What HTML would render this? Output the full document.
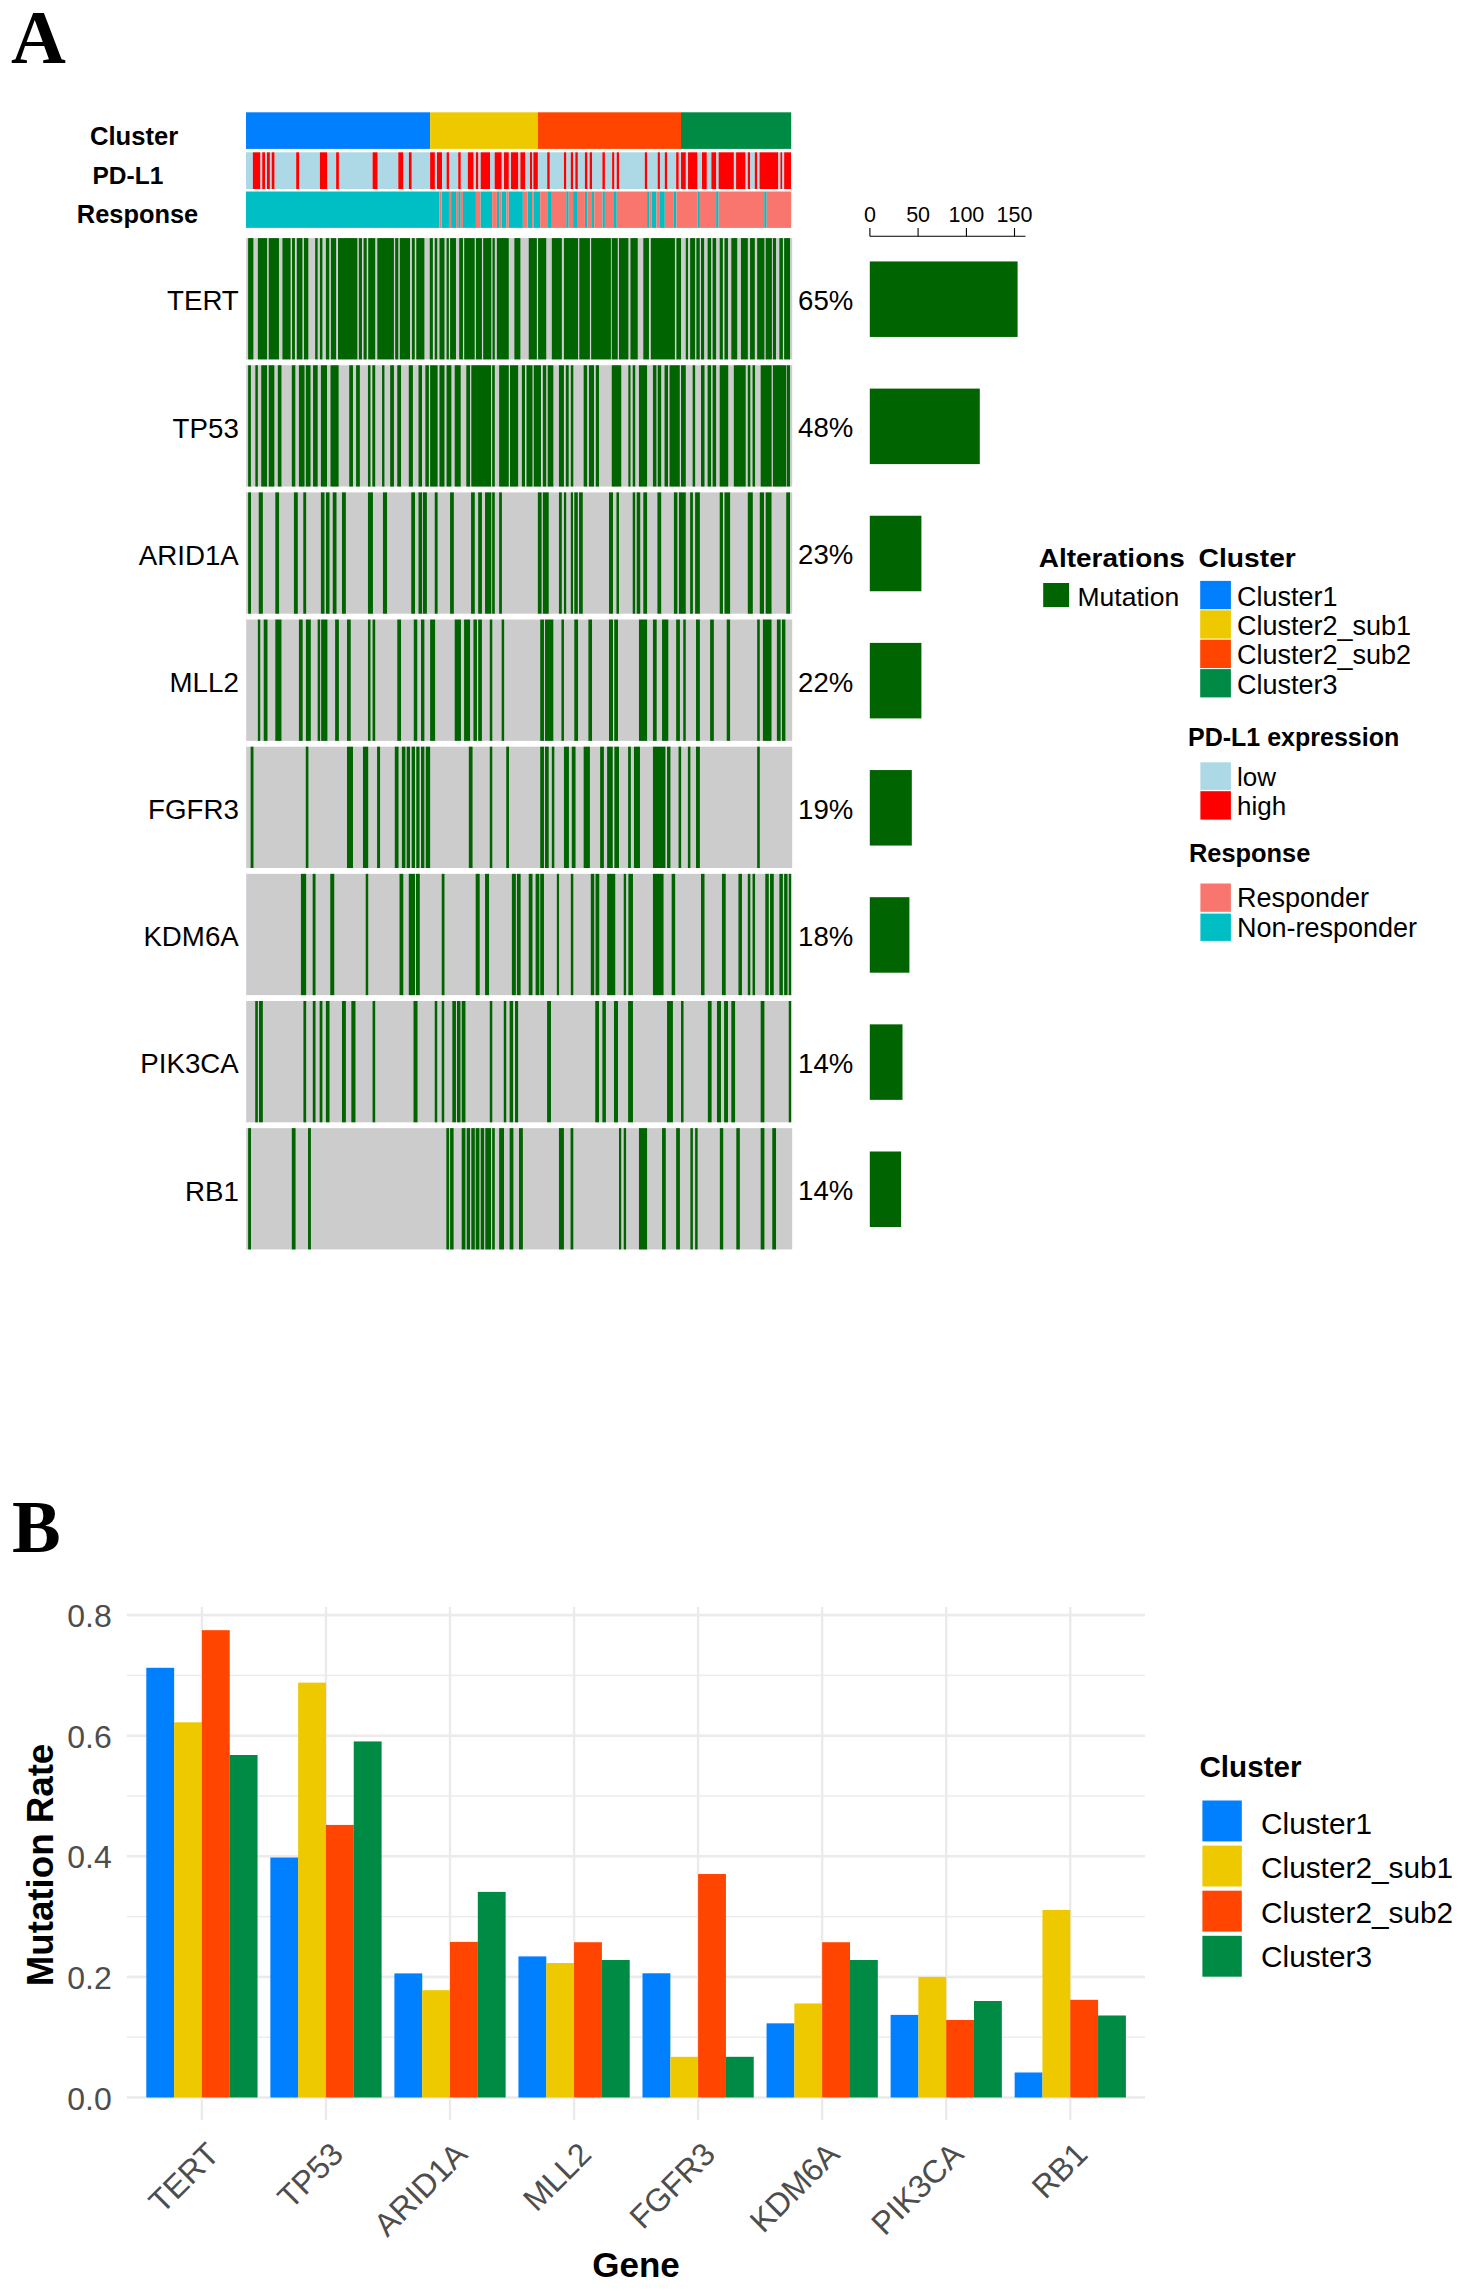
<!DOCTYPE html>
<html><head><meta charset="utf-8"><title>Figure</title>
<style>
html,body{margin:0;padding:0;background:#fff;}
body{width:1466px;height:2291px;overflow:hidden;}
svg{display:block;font-family:"Liberation Sans",sans-serif;}
</style></head>
<body>
<svg width="1466" height="2291" viewBox="0 0 1466 2291" shape-rendering="auto">
<rect x="0" y="0" width="1466" height="2291" fill="#fff"/>
<text x="11" y="63" font-family="Liberation Serif" font-weight="bold" font-size="76">A</text>
<text x="90" y="144.7" font-weight="bold" font-size="25.6">Cluster</text>
<clipPath id="pdclip"><rect x="0" y="150" width="240" height="35.3"/></clipPath>
<text x="92.5" y="184.3" font-weight="bold" font-size="24.5" clip-path="url(#pdclip)">PD-L1</text>
<text x="76.8" y="222.8" font-weight="bold" font-size="25.4">Response</text>
<rect x="246.0" y="112.3" width="184.10" height="36.6" fill="#007FFF"/>
<rect x="430.1" y="112.3" width="107.70" height="36.6" fill="#EEC900"/>
<rect x="537.8" y="112.3" width="143.20" height="36.6" fill="#FF4500"/>
<rect x="681.0" y="112.3" width="110.20" height="36.6" fill="#008B45"/>
<rect x="246.00" y="152.30" width="6.86" height="36.70" fill="#ADD8E6"/>
<rect x="260.23" y="152.30" width="2.00" height="36.70" fill="#ADD8E6"/>
<rect x="264.97" y="152.30" width="2.00" height="36.70" fill="#ADD8E6"/>
<rect x="269.84" y="152.30" width="1.87" height="36.70" fill="#ADD8E6"/>
<rect x="274.46" y="152.30" width="21.72" height="36.70" fill="#ADD8E6"/>
<rect x="299.05" y="152.30" width="20.85" height="36.70" fill="#ADD8E6"/>
<rect x="327.14" y="152.30" width="8.99" height="36.70" fill="#ADD8E6"/>
<rect x="338.87" y="152.30" width="33.70" height="36.70" fill="#ADD8E6"/>
<rect x="377.57" y="152.30" width="20.72" height="36.70" fill="#ADD8E6"/>
<rect x="403.28" y="152.30" width="5.62" height="36.70" fill="#ADD8E6"/>
<rect x="411.65" y="152.30" width="18.47" height="36.70" fill="#ADD8E6"/>
<rect x="434.86" y="152.30" width="2.12" height="36.70" fill="#ADD8E6"/>
<rect x="441.98" y="152.30" width="4.62" height="36.70" fill="#ADD8E6"/>
<rect x="448.97" y="152.30" width="9.24" height="36.70" fill="#ADD8E6"/>
<rect x="460.70" y="152.30" width="7.12" height="36.70" fill="#ADD8E6"/>
<rect x="473.56" y="152.30" width="2.37" height="36.70" fill="#ADD8E6"/>
<rect x="478.18" y="152.30" width="2.50" height="36.70" fill="#ADD8E6"/>
<rect x="490.04" y="152.30" width="4.62" height="36.70" fill="#ADD8E6"/>
<rect x="501.65" y="152.30" width="2.37" height="36.70" fill="#ADD8E6"/>
<rect x="508.76" y="152.30" width="2.25" height="36.70" fill="#ADD8E6"/>
<rect x="518.13" y="152.30" width="2.25" height="36.70" fill="#ADD8E6"/>
<rect x="525.12" y="152.30" width="4.87" height="36.70" fill="#ADD8E6"/>
<rect x="532.11" y="152.30" width="1.25" height="36.70" fill="#ADD8E6"/>
<rect x="537.85" y="152.30" width="9.36" height="36.70" fill="#ADD8E6"/>
<rect x="549.71" y="152.30" width="14.23" height="36.70" fill="#ADD8E6"/>
<rect x="566.18" y="152.30" width="4.62" height="36.70" fill="#ADD8E6"/>
<rect x="573.05" y="152.30" width="2.25" height="36.70" fill="#ADD8E6"/>
<rect x="577.79" y="152.30" width="7.12" height="36.70" fill="#ADD8E6"/>
<rect x="587.41" y="152.30" width="2.25" height="36.70" fill="#ADD8E6"/>
<rect x="592.02" y="152.30" width="10.36" height="36.70" fill="#ADD8E6"/>
<rect x="604.88" y="152.30" width="7.24" height="36.70" fill="#ADD8E6"/>
<rect x="614.24" y="152.30" width="2.50" height="36.70" fill="#ADD8E6"/>
<rect x="618.99" y="152.30" width="25.84" height="36.70" fill="#ADD8E6"/>
<rect x="647.07" y="152.30" width="10.61" height="36.70" fill="#ADD8E6"/>
<rect x="659.93" y="152.30" width="4.87" height="36.70" fill="#ADD8E6"/>
<rect x="667.05" y="152.30" width="9.11" height="36.70" fill="#ADD8E6"/>
<rect x="678.65" y="152.30" width="2.37" height="36.70" fill="#ADD8E6"/>
<rect x="685.77" y="152.30" width="2.25" height="36.70" fill="#ADD8E6"/>
<rect x="697.38" y="152.30" width="4.62" height="36.70" fill="#ADD8E6"/>
<rect x="706.74" y="152.30" width="4.62" height="36.70" fill="#ADD8E6"/>
<rect x="716.10" y="152.30" width="2.50" height="36.70" fill="#ADD8E6"/>
<rect x="733.83" y="152.30" width="2.25" height="36.70" fill="#ADD8E6"/>
<rect x="745.44" y="152.30" width="2.37" height="36.70" fill="#ADD8E6"/>
<rect x="750.06" y="152.30" width="4.74" height="36.70" fill="#ADD8E6"/>
<rect x="757.17" y="152.30" width="2.37" height="36.70" fill="#ADD8E6"/>
<rect x="778.14" y="152.30" width="2.25" height="36.70" fill="#ADD8E6"/>
<rect x="782.14" y="152.30" width="2.00" height="36.70" fill="#ADD8E6"/>
<rect x="791.00" y="152.30" width="0.20" height="36.70" fill="#ADD8E6"/>
<rect x="252.86" y="152.30" width="7.36" height="36.70" fill="#FF0000"/>
<rect x="262.23" y="152.30" width="2.75" height="36.70" fill="#FF0000"/>
<rect x="266.97" y="152.30" width="2.87" height="36.70" fill="#FF0000"/>
<rect x="271.71" y="152.30" width="2.75" height="36.70" fill="#FF0000"/>
<rect x="296.18" y="152.30" width="2.87" height="36.70" fill="#FF0000"/>
<rect x="319.90" y="152.30" width="7.24" height="36.70" fill="#FF0000"/>
<rect x="336.13" y="152.30" width="2.75" height="36.70" fill="#FF0000"/>
<rect x="372.58" y="152.30" width="4.99" height="36.70" fill="#FF0000"/>
<rect x="398.29" y="152.30" width="4.99" height="36.70" fill="#FF0000"/>
<rect x="408.90" y="152.30" width="2.75" height="36.70" fill="#FF0000"/>
<rect x="430.12" y="152.30" width="4.74" height="36.70" fill="#FF0000"/>
<rect x="436.99" y="152.30" width="4.99" height="36.70" fill="#FF0000"/>
<rect x="446.60" y="152.30" width="2.37" height="36.70" fill="#FF0000"/>
<rect x="458.21" y="152.30" width="2.50" height="36.70" fill="#FF0000"/>
<rect x="467.82" y="152.30" width="5.74" height="36.70" fill="#FF0000"/>
<rect x="475.93" y="152.30" width="2.25" height="36.70" fill="#FF0000"/>
<rect x="480.68" y="152.30" width="9.36" height="36.70" fill="#FF0000"/>
<rect x="494.66" y="152.30" width="6.99" height="36.70" fill="#FF0000"/>
<rect x="504.02" y="152.30" width="4.74" height="36.70" fill="#FF0000"/>
<rect x="511.01" y="152.30" width="7.12" height="36.70" fill="#FF0000"/>
<rect x="520.37" y="152.30" width="4.74" height="36.70" fill="#FF0000"/>
<rect x="529.98" y="152.30" width="2.12" height="36.70" fill="#FF0000"/>
<rect x="533.35" y="152.30" width="4.49" height="36.70" fill="#FF0000"/>
<rect x="547.21" y="152.30" width="2.50" height="36.70" fill="#FF0000"/>
<rect x="563.94" y="152.30" width="2.25" height="36.70" fill="#FF0000"/>
<rect x="570.80" y="152.30" width="2.25" height="36.70" fill="#FF0000"/>
<rect x="575.30" y="152.30" width="2.50" height="36.70" fill="#FF0000"/>
<rect x="584.91" y="152.30" width="2.50" height="36.70" fill="#FF0000"/>
<rect x="589.65" y="152.30" width="2.37" height="36.70" fill="#FF0000"/>
<rect x="602.39" y="152.30" width="2.50" height="36.70" fill="#FF0000"/>
<rect x="612.12" y="152.30" width="2.12" height="36.70" fill="#FF0000"/>
<rect x="616.74" y="152.30" width="2.25" height="36.70" fill="#FF0000"/>
<rect x="644.83" y="152.30" width="2.25" height="36.70" fill="#FF0000"/>
<rect x="657.68" y="152.30" width="2.25" height="36.70" fill="#FF0000"/>
<rect x="664.80" y="152.30" width="2.25" height="36.70" fill="#FF0000"/>
<rect x="676.16" y="152.30" width="2.50" height="36.70" fill="#FF0000"/>
<rect x="681.03" y="152.30" width="4.74" height="36.70" fill="#FF0000"/>
<rect x="688.02" y="152.30" width="9.36" height="36.70" fill="#FF0000"/>
<rect x="702.00" y="152.30" width="4.74" height="36.70" fill="#FF0000"/>
<rect x="711.36" y="152.30" width="4.74" height="36.70" fill="#FF0000"/>
<rect x="718.60" y="152.30" width="15.23" height="36.70" fill="#FF0000"/>
<rect x="736.08" y="152.30" width="9.36" height="36.70" fill="#FF0000"/>
<rect x="747.81" y="152.30" width="2.25" height="36.70" fill="#FF0000"/>
<rect x="754.80" y="152.30" width="2.37" height="36.70" fill="#FF0000"/>
<rect x="759.54" y="152.30" width="18.60" height="36.70" fill="#FF0000"/>
<rect x="780.39" y="152.30" width="1.75" height="36.70" fill="#FF0000"/>
<rect x="784.14" y="152.30" width="6.87" height="36.70" fill="#FF0000"/>
<rect x="246.00" y="191.50" width="193.48" height="36.40" fill="#00BFC4"/>
<rect x="441.73" y="191.50" width="7.24" height="36.40" fill="#00BFC4"/>
<rect x="451.09" y="191.50" width="4.99" height="36.40" fill="#00BFC4"/>
<rect x="458.21" y="191.50" width="2.50" height="36.40" fill="#00BFC4"/>
<rect x="462.95" y="191.50" width="12.98" height="36.40" fill="#00BFC4"/>
<rect x="480.43" y="191.50" width="11.73" height="36.40" fill="#00BFC4"/>
<rect x="496.90" y="191.50" width="2.25" height="36.40" fill="#00BFC4"/>
<rect x="501.65" y="191.50" width="4.74" height="36.40" fill="#00BFC4"/>
<rect x="508.76" y="191.50" width="14.11" height="36.40" fill="#00BFC4"/>
<rect x="527.49" y="191.50" width="4.62" height="36.40" fill="#00BFC4"/>
<rect x="533.35" y="191.50" width="6.87" height="36.40" fill="#00BFC4"/>
<rect x="547.21" y="191.50" width="4.62" height="36.40" fill="#00BFC4"/>
<rect x="566.18" y="191.50" width="2.50" height="36.40" fill="#00BFC4"/>
<rect x="573.05" y="191.50" width="4.74" height="36.40" fill="#00BFC4"/>
<rect x="584.91" y="191.50" width="2.50" height="36.40" fill="#00BFC4"/>
<rect x="592.02" y="191.50" width="2.25" height="36.40" fill="#00BFC4"/>
<rect x="602.39" y="191.50" width="2.50" height="36.40" fill="#00BFC4"/>
<rect x="613.99" y="191.50" width="2.75" height="36.40" fill="#00BFC4"/>
<rect x="647.07" y="191.50" width="2.50" height="36.40" fill="#00BFC4"/>
<rect x="651.69" y="191.50" width="4.74" height="36.40" fill="#00BFC4"/>
<rect x="659.93" y="191.50" width="4.87" height="36.40" fill="#00BFC4"/>
<rect x="673.91" y="191.50" width="2.50" height="36.40" fill="#00BFC4"/>
<rect x="697.38" y="191.50" width="2.50" height="36.40" fill="#00BFC4"/>
<rect x="716.10" y="191.50" width="2.50" height="36.40" fill="#00BFC4"/>
<rect x="764.16" y="191.50" width="2.50" height="36.40" fill="#00BFC4"/>
<rect x="439.48" y="191.50" width="2.25" height="36.40" fill="#F8766D"/>
<rect x="448.97" y="191.50" width="2.12" height="36.40" fill="#F8766D"/>
<rect x="456.09" y="191.50" width="2.12" height="36.40" fill="#F8766D"/>
<rect x="460.70" y="191.50" width="2.25" height="36.40" fill="#F8766D"/>
<rect x="475.93" y="191.50" width="4.49" height="36.40" fill="#F8766D"/>
<rect x="492.16" y="191.50" width="4.74" height="36.40" fill="#F8766D"/>
<rect x="499.15" y="191.50" width="2.50" height="36.40" fill="#F8766D"/>
<rect x="506.39" y="191.50" width="2.37" height="36.40" fill="#F8766D"/>
<rect x="522.87" y="191.50" width="4.62" height="36.40" fill="#F8766D"/>
<rect x="532.11" y="191.50" width="1.25" height="36.40" fill="#F8766D"/>
<rect x="540.22" y="191.50" width="6.99" height="36.40" fill="#F8766D"/>
<rect x="551.83" y="191.50" width="14.36" height="36.40" fill="#F8766D"/>
<rect x="568.68" y="191.50" width="4.37" height="36.40" fill="#F8766D"/>
<rect x="577.79" y="191.50" width="7.12" height="36.40" fill="#F8766D"/>
<rect x="587.41" y="191.50" width="4.62" height="36.40" fill="#F8766D"/>
<rect x="594.27" y="191.50" width="8.11" height="36.40" fill="#F8766D"/>
<rect x="604.88" y="191.50" width="9.11" height="36.40" fill="#F8766D"/>
<rect x="616.74" y="191.50" width="30.33" height="36.40" fill="#F8766D"/>
<rect x="649.57" y="191.50" width="2.12" height="36.40" fill="#F8766D"/>
<rect x="656.44" y="191.50" width="3.50" height="36.40" fill="#F8766D"/>
<rect x="664.80" y="191.50" width="9.11" height="36.40" fill="#F8766D"/>
<rect x="676.41" y="191.50" width="20.97" height="36.40" fill="#F8766D"/>
<rect x="699.88" y="191.50" width="16.23" height="36.40" fill="#F8766D"/>
<rect x="718.60" y="191.50" width="45.56" height="36.40" fill="#F8766D"/>
<rect x="766.66" y="191.50" width="24.54" height="36.40" fill="#F8766D"/>
<rect x="246.0" y="238.10" width="546.20" height="121.3" fill="#CCCCCC"/>
<rect x="267.09" y="238.10" width="1.62" height="121.30" fill="#D8D0DA"/>
<rect x="290.56" y="238.10" width="1.50" height="121.30" fill="#D8D0DA"/>
<rect x="294.93" y="238.10" width="1.87" height="121.30" fill="#D8D0DA"/>
<rect x="302.42" y="238.10" width="1.50" height="121.30" fill="#D8D0DA"/>
<rect x="329.26" y="238.10" width="1.62" height="121.30" fill="#D8D0DA"/>
<rect x="336.13" y="238.10" width="1.87" height="121.30" fill="#D8D0DA"/>
<rect x="357.35" y="238.10" width="1.50" height="121.30" fill="#D8D0DA"/>
<rect x="361.97" y="238.10" width="1.62" height="121.30" fill="#D8D0DA"/>
<rect x="366.71" y="238.10" width="1.50" height="121.30" fill="#D8D0DA"/>
<rect x="393.92" y="238.10" width="1.25" height="121.30" fill="#D8D0DA"/>
<rect x="398.29" y="238.10" width="1.50" height="121.30" fill="#D8D0DA"/>
<rect x="410.02" y="238.10" width="1.87" height="121.30" fill="#D8D0DA"/>
<rect x="414.77" y="238.10" width="1.50" height="121.30" fill="#D8D0DA"/>
<rect x="432.87" y="238.10" width="1.87" height="121.30" fill="#D8D0DA"/>
<rect x="448.85" y="238.10" width="1.25" height="121.30" fill="#D8D0DA"/>
<rect x="462.95" y="238.10" width="1.25" height="121.30" fill="#D8D0DA"/>
<rect x="474.68" y="238.10" width="1.25" height="121.30" fill="#D8D0DA"/>
<rect x="481.92" y="238.10" width="1.25" height="121.30" fill="#D8D0DA"/>
<rect x="491.29" y="238.10" width="1.25" height="121.30" fill="#D8D0DA"/>
<rect x="536.85" y="238.10" width="1.25" height="121.30" fill="#D8D0DA"/>
<rect x="578.04" y="238.10" width="1.25" height="121.30" fill="#D8D0DA"/>
<rect x="589.90" y="238.10" width="1.25" height="121.30" fill="#D8D0DA"/>
<rect x="610.87" y="238.10" width="0.87" height="121.30" fill="#D8D0DA"/>
<rect x="617.74" y="238.10" width="1.25" height="121.30" fill="#D8D0DA"/>
<rect x="648.95" y="238.10" width="1.87" height="121.30" fill="#D8D0DA"/>
<rect x="674.91" y="238.10" width="1.50" height="121.30" fill="#D8D0DA"/>
<rect x="695.13" y="238.10" width="1.25" height="121.30" fill="#D8D0DA"/>
<rect x="699.75" y="238.10" width="1.25" height="121.30" fill="#D8D0DA"/>
<rect x="711.11" y="238.10" width="1.50" height="121.30" fill="#D8D0DA"/>
<rect x="722.84" y="238.10" width="1.62" height="121.30" fill="#D8D0DA"/>
<rect x="764.41" y="238.10" width="1.25" height="121.30" fill="#D8D0DA"/>
<rect x="771.90" y="238.10" width="1.00" height="121.30" fill="#D8D0DA"/>
<rect x="782.89" y="238.10" width="1.25" height="121.30" fill="#D8D0DA"/>
<rect x="246.0" y="238.10" width="1.2" height="121.3" fill="#D8D0DA"/>
<rect x="248.12" y="238.10" width="5.24" height="121.30" fill="#006400"/>
<rect x="257.86" y="238.10" width="9.24" height="121.30" fill="#006400"/>
<rect x="268.72" y="238.10" width="10.24" height="121.30" fill="#006400"/>
<rect x="282.45" y="238.10" width="8.11" height="121.30" fill="#006400"/>
<rect x="292.06" y="238.10" width="2.87" height="121.30" fill="#006400"/>
<rect x="296.80" y="238.10" width="5.62" height="121.30" fill="#006400"/>
<rect x="303.92" y="238.10" width="4.37" height="121.30" fill="#006400"/>
<rect x="315.15" y="238.10" width="2.50" height="121.30" fill="#006400"/>
<rect x="319.90" y="238.10" width="2.50" height="121.30" fill="#006400"/>
<rect x="325.89" y="238.10" width="3.37" height="121.30" fill="#006400"/>
<rect x="330.88" y="238.10" width="5.24" height="121.30" fill="#006400"/>
<rect x="338.00" y="238.10" width="19.35" height="121.30" fill="#006400"/>
<rect x="358.84" y="238.10" width="3.12" height="121.30" fill="#006400"/>
<rect x="363.59" y="238.10" width="3.12" height="121.30" fill="#006400"/>
<rect x="368.21" y="238.10" width="6.99" height="121.30" fill="#006400"/>
<rect x="377.32" y="238.10" width="16.60" height="121.30" fill="#006400"/>
<rect x="395.17" y="238.10" width="3.12" height="121.30" fill="#006400"/>
<rect x="399.79" y="238.10" width="10.24" height="121.30" fill="#006400"/>
<rect x="411.90" y="238.10" width="2.87" height="121.30" fill="#006400"/>
<rect x="416.27" y="238.10" width="8.11" height="121.30" fill="#006400"/>
<rect x="429.75" y="238.10" width="3.12" height="121.30" fill="#006400"/>
<rect x="434.74" y="238.10" width="2.50" height="121.30" fill="#006400"/>
<rect x="439.48" y="238.10" width="4.99" height="121.30" fill="#006400"/>
<rect x="446.60" y="238.10" width="2.25" height="121.30" fill="#006400"/>
<rect x="450.09" y="238.10" width="5.87" height="121.30" fill="#006400"/>
<rect x="459.21" y="238.10" width="3.74" height="121.30" fill="#006400"/>
<rect x="464.20" y="238.10" width="10.49" height="121.30" fill="#006400"/>
<rect x="475.93" y="238.10" width="5.99" height="121.30" fill="#006400"/>
<rect x="483.17" y="238.10" width="8.11" height="121.30" fill="#006400"/>
<rect x="492.54" y="238.10" width="2.25" height="121.30" fill="#006400"/>
<rect x="496.90" y="238.10" width="11.86" height="121.30" fill="#006400"/>
<rect x="514.38" y="238.10" width="5.99" height="121.30" fill="#006400"/>
<rect x="528.74" y="238.10" width="8.11" height="121.30" fill="#006400"/>
<rect x="538.10" y="238.10" width="8.11" height="121.30" fill="#006400"/>
<rect x="551.83" y="238.10" width="9.99" height="121.30" fill="#006400"/>
<rect x="563.94" y="238.10" width="14.11" height="121.30" fill="#006400"/>
<rect x="579.29" y="238.10" width="10.61" height="121.30" fill="#006400"/>
<rect x="591.15" y="238.10" width="19.72" height="121.30" fill="#006400"/>
<rect x="611.75" y="238.10" width="5.99" height="121.30" fill="#006400"/>
<rect x="618.99" y="238.10" width="9.36" height="121.30" fill="#006400"/>
<rect x="630.47" y="238.10" width="7.24" height="121.30" fill="#006400"/>
<rect x="643.33" y="238.10" width="5.62" height="121.30" fill="#006400"/>
<rect x="650.82" y="238.10" width="24.09" height="121.30" fill="#006400"/>
<rect x="676.41" y="238.10" width="4.62" height="121.30" fill="#006400"/>
<rect x="685.77" y="238.10" width="2.25" height="121.30" fill="#006400"/>
<rect x="690.14" y="238.10" width="4.99" height="121.30" fill="#006400"/>
<rect x="696.38" y="238.10" width="3.37" height="121.30" fill="#006400"/>
<rect x="701.00" y="238.10" width="3.12" height="121.30" fill="#006400"/>
<rect x="707.62" y="238.10" width="3.50" height="121.30" fill="#006400"/>
<rect x="712.61" y="238.10" width="3.50" height="121.30" fill="#006400"/>
<rect x="719.72" y="238.10" width="3.12" height="121.30" fill="#006400"/>
<rect x="724.47" y="238.10" width="3.50" height="121.30" fill="#006400"/>
<rect x="731.33" y="238.10" width="5.87" height="121.30" fill="#006400"/>
<rect x="740.94" y="238.10" width="6.87" height="121.30" fill="#006400"/>
<rect x="750.06" y="238.10" width="4.74" height="121.30" fill="#006400"/>
<rect x="757.17" y="238.10" width="7.24" height="121.30" fill="#006400"/>
<rect x="765.66" y="238.10" width="6.24" height="121.30" fill="#006400"/>
<rect x="772.90" y="238.10" width="3.12" height="121.30" fill="#006400"/>
<rect x="779.39" y="238.10" width="3.50" height="121.30" fill="#006400"/>
<rect x="784.14" y="238.10" width="5.87" height="121.30" fill="#006400"/>
<text x="238.8" y="310.45" font-size="27.7" text-anchor="end">TERT</text>
<text x="798.1" y="310.05" font-size="27.6">65%</text>
<rect x="869.8" y="261.45" width="147.80" height="75.5" fill="#006400"/>
<rect x="246.0" y="365.25" width="546.20" height="121.3" fill="#CCCCCC"/>
<rect x="267.09" y="365.25" width="1.62" height="121.30" fill="#D8D0DA"/>
<rect x="304.54" y="365.25" width="1.25" height="121.30" fill="#D8D0DA"/>
<rect x="370.45" y="365.25" width="1.87" height="121.30" fill="#D8D0DA"/>
<rect x="428.87" y="365.25" width="1.25" height="121.30" fill="#D8D0DA"/>
<rect x="437.61" y="365.25" width="1.87" height="121.30" fill="#D8D0DA"/>
<rect x="470.07" y="365.25" width="1.25" height="121.30" fill="#D8D0DA"/>
<rect x="491.04" y="365.25" width="1.12" height="121.30" fill="#D8D0DA"/>
<rect x="508.76" y="365.25" width="1.25" height="121.30" fill="#D8D0DA"/>
<rect x="524.99" y="365.25" width="1.50" height="121.30" fill="#D8D0DA"/>
<rect x="532.48" y="365.25" width="1.25" height="121.30" fill="#D8D0DA"/>
<rect x="540.97" y="365.25" width="1.87" height="121.30" fill="#D8D0DA"/>
<rect x="546.21" y="365.25" width="1.50" height="121.30" fill="#D8D0DA"/>
<rect x="563.94" y="365.25" width="1.87" height="121.30" fill="#D8D0DA"/>
<rect x="587.16" y="365.25" width="1.75" height="121.30" fill="#D8D0DA"/>
<rect x="594.02" y="365.25" width="1.75" height="121.30" fill="#D8D0DA"/>
<rect x="656.44" y="365.25" width="1.25" height="121.30" fill="#D8D0DA"/>
<rect x="668.04" y="365.25" width="1.50" height="121.30" fill="#D8D0DA"/>
<rect x="679.78" y="365.25" width="1.25" height="121.30" fill="#D8D0DA"/>
<rect x="711.11" y="365.25" width="1.50" height="121.30" fill="#D8D0DA"/>
<rect x="771.65" y="365.25" width="1.25" height="121.30" fill="#D8D0DA"/>
<rect x="786.26" y="365.25" width="0.62" height="121.30" fill="#D8D0DA"/>
<rect x="246.0" y="365.25" width="1.2" height="121.3" fill="#D8D0DA"/>
<rect x="248.12" y="365.25" width="2.75" height="121.30" fill="#006400"/>
<rect x="255.36" y="365.25" width="2.50" height="121.30" fill="#006400"/>
<rect x="261.23" y="365.25" width="5.87" height="121.30" fill="#006400"/>
<rect x="268.72" y="365.25" width="5.62" height="121.30" fill="#006400"/>
<rect x="277.83" y="365.25" width="3.62" height="121.30" fill="#006400"/>
<rect x="291.81" y="365.25" width="3.50" height="121.30" fill="#006400"/>
<rect x="298.93" y="365.25" width="5.62" height="121.30" fill="#006400"/>
<rect x="305.79" y="365.25" width="4.74" height="121.30" fill="#006400"/>
<rect x="313.03" y="365.25" width="4.62" height="121.30" fill="#006400"/>
<rect x="320.90" y="365.25" width="6.12" height="121.30" fill="#006400"/>
<rect x="330.51" y="365.25" width="8.11" height="121.30" fill="#006400"/>
<rect x="349.23" y="365.25" width="3.74" height="121.30" fill="#006400"/>
<rect x="356.10" y="365.25" width="3.74" height="121.30" fill="#006400"/>
<rect x="367.96" y="365.25" width="2.50" height="121.30" fill="#006400"/>
<rect x="372.33" y="365.25" width="2.87" height="121.30" fill="#006400"/>
<rect x="382.06" y="365.25" width="2.37" height="121.30" fill="#006400"/>
<rect x="390.18" y="365.25" width="3.74" height="121.30" fill="#006400"/>
<rect x="397.29" y="365.25" width="3.74" height="121.30" fill="#006400"/>
<rect x="408.78" y="365.25" width="4.12" height="121.30" fill="#006400"/>
<rect x="418.51" y="365.25" width="3.50" height="121.30" fill="#006400"/>
<rect x="425.38" y="365.25" width="3.49" height="121.30" fill="#006400"/>
<rect x="430.12" y="365.25" width="7.49" height="121.30" fill="#006400"/>
<rect x="439.48" y="365.25" width="4.99" height="121.30" fill="#006400"/>
<rect x="446.60" y="365.25" width="4.74" height="121.30" fill="#006400"/>
<rect x="454.71" y="365.25" width="5.99" height="121.30" fill="#006400"/>
<rect x="466.32" y="365.25" width="3.74" height="121.30" fill="#006400"/>
<rect x="471.31" y="365.25" width="19.72" height="121.30" fill="#006400"/>
<rect x="492.16" y="365.25" width="2.62" height="121.30" fill="#006400"/>
<rect x="499.15" y="365.25" width="9.61" height="121.30" fill="#006400"/>
<rect x="510.01" y="365.25" width="8.11" height="121.30" fill="#006400"/>
<rect x="521.87" y="365.25" width="3.12" height="121.30" fill="#006400"/>
<rect x="526.49" y="365.25" width="5.99" height="121.30" fill="#006400"/>
<rect x="533.73" y="365.25" width="7.24" height="121.30" fill="#006400"/>
<rect x="542.84" y="365.25" width="3.37" height="121.30" fill="#006400"/>
<rect x="547.71" y="365.25" width="5.62" height="121.30" fill="#006400"/>
<rect x="558.94" y="365.25" width="4.99" height="121.30" fill="#006400"/>
<rect x="565.81" y="365.25" width="2.87" height="121.30" fill="#006400"/>
<rect x="570.80" y="365.25" width="2.50" height="121.30" fill="#006400"/>
<rect x="583.66" y="365.25" width="3.50" height="121.30" fill="#006400"/>
<rect x="588.90" y="365.25" width="5.12" height="121.30" fill="#006400"/>
<rect x="595.77" y="365.25" width="3.25" height="121.30" fill="#006400"/>
<rect x="611.75" y="365.25" width="9.49" height="121.30" fill="#006400"/>
<rect x="628.35" y="365.25" width="2.12" height="121.30" fill="#006400"/>
<rect x="632.72" y="365.25" width="2.50" height="121.30" fill="#006400"/>
<rect x="638.96" y="365.25" width="8.11" height="121.30" fill="#006400"/>
<rect x="652.94" y="365.25" width="3.50" height="121.30" fill="#006400"/>
<rect x="657.68" y="365.25" width="3.50" height="121.30" fill="#006400"/>
<rect x="664.55" y="365.25" width="3.50" height="121.30" fill="#006400"/>
<rect x="669.54" y="365.25" width="10.24" height="121.30" fill="#006400"/>
<rect x="681.03" y="365.25" width="4.74" height="121.30" fill="#006400"/>
<rect x="692.64" y="365.25" width="2.50" height="121.30" fill="#006400"/>
<rect x="701.00" y="365.25" width="3.50" height="121.30" fill="#006400"/>
<rect x="707.62" y="365.25" width="3.50" height="121.30" fill="#006400"/>
<rect x="712.61" y="365.25" width="3.50" height="121.30" fill="#006400"/>
<rect x="719.72" y="365.25" width="8.49" height="121.30" fill="#006400"/>
<rect x="733.83" y="365.25" width="11.86" height="121.30" fill="#006400"/>
<rect x="747.81" y="365.25" width="2.50" height="121.30" fill="#006400"/>
<rect x="752.55" y="365.25" width="2.50" height="121.30" fill="#006400"/>
<rect x="760.67" y="365.25" width="10.98" height="121.30" fill="#006400"/>
<rect x="772.90" y="365.25" width="13.36" height="121.30" fill="#006400"/>
<rect x="786.88" y="365.25" width="3.12" height="121.30" fill="#006400"/>
<text x="238.8" y="437.60" font-size="27.7" text-anchor="end">TP53</text>
<text x="798.1" y="437.20" font-size="27.6">48%</text>
<rect x="869.8" y="388.60" width="110.00" height="75.5" fill="#006400"/>
<rect x="246.0" y="492.40" width="546.20" height="121.3" fill="#CCCCCC"/>
<rect x="324.52" y="492.40" width="1.37" height="121.30" fill="#D8D0DA"/>
<rect x="422.01" y="492.40" width="0.87" height="121.30" fill="#D8D0DA"/>
<rect x="491.29" y="492.40" width="0.87" height="121.30" fill="#D8D0DA"/>
<rect x="541.59" y="492.40" width="1.25" height="121.30" fill="#D8D0DA"/>
<rect x="573.05" y="492.40" width="1.25" height="121.30" fill="#D8D0DA"/>
<rect x="577.79" y="492.40" width="1.25" height="121.30" fill="#D8D0DA"/>
<rect x="635.21" y="492.40" width="1.50" height="121.30" fill="#D8D0DA"/>
<rect x="677.41" y="492.40" width="1.50" height="121.30" fill="#D8D0DA"/>
<rect x="722.97" y="492.40" width="1.50" height="121.30" fill="#D8D0DA"/>
<rect x="764.04" y="492.40" width="1.62" height="121.30" fill="#D8D0DA"/>
<rect x="246.0" y="492.40" width="1.2" height="121.3" fill="#D8D0DA"/>
<rect x="248.12" y="492.40" width="2.87" height="121.30" fill="#006400"/>
<rect x="258.73" y="492.40" width="4.12" height="121.30" fill="#006400"/>
<rect x="275.33" y="492.40" width="3.74" height="121.30" fill="#006400"/>
<rect x="293.93" y="492.40" width="3.87" height="121.30" fill="#006400"/>
<rect x="303.30" y="492.40" width="2.87" height="121.30" fill="#006400"/>
<rect x="320.90" y="492.40" width="3.62" height="121.30" fill="#006400"/>
<rect x="325.89" y="492.40" width="3.62" height="121.30" fill="#006400"/>
<rect x="332.76" y="492.40" width="3.74" height="121.30" fill="#006400"/>
<rect x="341.99" y="492.40" width="3.87" height="121.30" fill="#006400"/>
<rect x="367.96" y="492.40" width="4.99" height="121.30" fill="#006400"/>
<rect x="382.94" y="492.40" width="4.12" height="121.30" fill="#006400"/>
<rect x="411.27" y="492.40" width="3.74" height="121.30" fill="#006400"/>
<rect x="418.51" y="492.40" width="3.50" height="121.30" fill="#006400"/>
<rect x="422.88" y="492.40" width="3.99" height="121.30" fill="#006400"/>
<rect x="434.74" y="492.40" width="2.87" height="121.30" fill="#006400"/>
<rect x="450.09" y="492.40" width="3.74" height="121.30" fill="#006400"/>
<rect x="471.06" y="492.40" width="3.74" height="121.30" fill="#006400"/>
<rect x="478.18" y="492.40" width="3.74" height="121.30" fill="#006400"/>
<rect x="485.05" y="492.40" width="6.24" height="121.30" fill="#006400"/>
<rect x="492.16" y="492.40" width="2.62" height="121.30" fill="#006400"/>
<rect x="499.15" y="492.40" width="2.75" height="121.30" fill="#006400"/>
<rect x="537.85" y="492.40" width="3.74" height="121.30" fill="#006400"/>
<rect x="542.84" y="492.40" width="5.87" height="121.30" fill="#006400"/>
<rect x="558.94" y="492.40" width="2.87" height="121.30" fill="#006400"/>
<rect x="563.94" y="492.40" width="2.25" height="121.30" fill="#006400"/>
<rect x="570.80" y="492.40" width="2.25" height="121.30" fill="#006400"/>
<rect x="574.30" y="492.40" width="3.50" height="121.30" fill="#006400"/>
<rect x="579.04" y="492.40" width="3.74" height="121.30" fill="#006400"/>
<rect x="609.00" y="492.40" width="3.99" height="121.30" fill="#006400"/>
<rect x="616.49" y="492.40" width="2.50" height="121.30" fill="#006400"/>
<rect x="632.72" y="492.40" width="2.50" height="121.30" fill="#006400"/>
<rect x="636.71" y="492.40" width="3.50" height="121.30" fill="#006400"/>
<rect x="643.33" y="492.40" width="3.74" height="121.30" fill="#006400"/>
<rect x="657.43" y="492.40" width="3.74" height="121.30" fill="#006400"/>
<rect x="673.91" y="492.40" width="3.50" height="121.30" fill="#006400"/>
<rect x="678.90" y="492.40" width="6.87" height="121.30" fill="#006400"/>
<rect x="690.14" y="492.40" width="2.75" height="121.30" fill="#006400"/>
<rect x="695.13" y="492.40" width="4.74" height="121.30" fill="#006400"/>
<rect x="719.72" y="492.40" width="3.25" height="121.30" fill="#006400"/>
<rect x="724.47" y="492.40" width="5.62" height="121.30" fill="#006400"/>
<rect x="747.81" y="492.40" width="4.99" height="121.30" fill="#006400"/>
<rect x="759.79" y="492.40" width="4.24" height="121.30" fill="#006400"/>
<rect x="765.66" y="492.40" width="5.87" height="121.30" fill="#006400"/>
<rect x="786.26" y="492.40" width="3.74" height="121.30" fill="#006400"/>
<text x="238.8" y="564.75" font-size="27.7" text-anchor="end">ARID1A</text>
<text x="798.1" y="564.35" font-size="27.6">23%</text>
<rect x="869.8" y="515.75" width="51.60" height="75.5" fill="#006400"/>
<rect x="246.0" y="619.55" width="546.20" height="121.3" fill="#CCCCCC"/>
<rect x="320.15" y="619.55" width="1.00" height="121.30" fill="#D8D0DA"/>
<rect x="476.93" y="619.55" width="1.25" height="121.30" fill="#D8D0DA"/>
<rect x="543.97" y="619.55" width="1.00" height="121.30" fill="#D8D0DA"/>
<rect x="612.99" y="619.55" width="1.25" height="121.30" fill="#D8D0DA"/>
<rect x="780.64" y="619.55" width="1.25" height="121.30" fill="#D8D0DA"/>
<rect x="246.0" y="619.55" width="1.2" height="121.3" fill="#D8D0DA"/>
<rect x="257.86" y="619.55" width="2.37" height="121.30" fill="#006400"/>
<rect x="263.72" y="619.55" width="3.74" height="121.30" fill="#006400"/>
<rect x="275.33" y="619.55" width="6.12" height="121.30" fill="#006400"/>
<rect x="298.93" y="619.55" width="3.74" height="121.30" fill="#006400"/>
<rect x="305.92" y="619.55" width="4.87" height="121.30" fill="#006400"/>
<rect x="317.65" y="619.55" width="2.50" height="121.30" fill="#006400"/>
<rect x="321.15" y="619.55" width="6.24" height="121.30" fill="#006400"/>
<rect x="335.13" y="619.55" width="3.74" height="121.30" fill="#006400"/>
<rect x="346.99" y="619.55" width="3.74" height="121.30" fill="#006400"/>
<rect x="367.96" y="619.55" width="2.50" height="121.30" fill="#006400"/>
<rect x="372.58" y="619.55" width="2.62" height="121.30" fill="#006400"/>
<rect x="397.29" y="619.55" width="3.74" height="121.30" fill="#006400"/>
<rect x="413.77" y="619.55" width="3.50" height="121.30" fill="#006400"/>
<rect x="421.01" y="619.55" width="3.37" height="121.30" fill="#006400"/>
<rect x="430.12" y="619.55" width="4.99" height="121.30" fill="#006400"/>
<rect x="454.71" y="619.55" width="6.24" height="121.30" fill="#006400"/>
<rect x="464.07" y="619.55" width="5.99" height="121.30" fill="#006400"/>
<rect x="473.44" y="619.55" width="3.50" height="121.30" fill="#006400"/>
<rect x="478.18" y="619.55" width="3.74" height="121.30" fill="#006400"/>
<rect x="489.79" y="619.55" width="2.50" height="121.30" fill="#006400"/>
<rect x="501.65" y="619.55" width="2.50" height="121.30" fill="#006400"/>
<rect x="540.22" y="619.55" width="3.74" height="121.30" fill="#006400"/>
<rect x="544.96" y="619.55" width="8.36" height="121.30" fill="#006400"/>
<rect x="561.44" y="619.55" width="2.50" height="121.30" fill="#006400"/>
<rect x="574.30" y="619.55" width="3.74" height="121.30" fill="#006400"/>
<rect x="588.40" y="619.55" width="3.62" height="121.30" fill="#006400"/>
<rect x="609.00" y="619.55" width="3.99" height="121.30" fill="#006400"/>
<rect x="614.24" y="619.55" width="3.74" height="121.30" fill="#006400"/>
<rect x="638.96" y="619.55" width="8.11" height="121.30" fill="#006400"/>
<rect x="652.94" y="619.55" width="3.74" height="121.30" fill="#006400"/>
<rect x="662.05" y="619.55" width="6.24" height="121.30" fill="#006400"/>
<rect x="676.16" y="619.55" width="3.74" height="121.30" fill="#006400"/>
<rect x="683.27" y="619.55" width="2.50" height="121.30" fill="#006400"/>
<rect x="696.01" y="619.55" width="3.87" height="121.30" fill="#006400"/>
<rect x="710.11" y="619.55" width="3.74" height="121.30" fill="#006400"/>
<rect x="726.71" y="619.55" width="3.37" height="121.30" fill="#006400"/>
<rect x="757.17" y="619.55" width="2.62" height="121.30" fill="#006400"/>
<rect x="762.91" y="619.55" width="8.61" height="121.30" fill="#006400"/>
<rect x="776.90" y="619.55" width="3.74" height="121.30" fill="#006400"/>
<rect x="781.89" y="619.55" width="3.50" height="121.30" fill="#006400"/>
<text x="238.8" y="691.90" font-size="27.7" text-anchor="end">MLL2</text>
<text x="798.1" y="691.50" font-size="27.6">22%</text>
<rect x="869.8" y="642.90" width="51.60" height="75.5" fill="#006400"/>
<rect x="246.0" y="746.70" width="546.20" height="121.3" fill="#CCCCCC"/>
<rect x="405.41" y="746.70" width="1.25" height="121.30" fill="#D8D0DA"/>
<rect x="410.02" y="746.70" width="1.62" height="121.30" fill="#D8D0DA"/>
<rect x="415.02" y="746.70" width="1.25" height="121.30" fill="#D8D0DA"/>
<rect x="419.51" y="746.70" width="1.50" height="121.30" fill="#D8D0DA"/>
<rect x="424.38" y="746.70" width="1.37" height="121.30" fill="#D8D0DA"/>
<rect x="543.97" y="746.70" width="1.00" height="121.30" fill="#D8D0DA"/>
<rect x="612.74" y="746.70" width="1.62" height="121.30" fill="#D8D0DA"/>
<rect x="665.42" y="746.70" width="1.62" height="121.30" fill="#D8D0DA"/>
<rect x="246.0" y="746.70" width="1.2" height="121.3" fill="#D8D0DA"/>
<rect x="250.62" y="746.70" width="2.87" height="121.30" fill="#006400"/>
<rect x="305.79" y="746.70" width="2.62" height="121.30" fill="#006400"/>
<rect x="346.99" y="746.70" width="5.99" height="121.30" fill="#006400"/>
<rect x="362.96" y="746.70" width="5.24" height="121.30" fill="#006400"/>
<rect x="377.07" y="746.70" width="3.00" height="121.30" fill="#006400"/>
<rect x="394.80" y="746.70" width="3.74" height="121.30" fill="#006400"/>
<rect x="401.91" y="746.70" width="3.50" height="121.30" fill="#006400"/>
<rect x="406.65" y="746.70" width="3.37" height="121.30" fill="#006400"/>
<rect x="411.65" y="746.70" width="3.37" height="121.30" fill="#006400"/>
<rect x="416.27" y="746.70" width="3.25" height="121.30" fill="#006400"/>
<rect x="421.01" y="746.70" width="3.37" height="121.30" fill="#006400"/>
<rect x="425.75" y="746.70" width="4.37" height="121.30" fill="#006400"/>
<rect x="468.82" y="746.70" width="3.74" height="121.30" fill="#006400"/>
<rect x="489.79" y="746.70" width="2.50" height="121.30" fill="#006400"/>
<rect x="506.27" y="746.70" width="2.75" height="121.30" fill="#006400"/>
<rect x="540.22" y="746.70" width="3.74" height="121.30" fill="#006400"/>
<rect x="544.96" y="746.70" width="3.74" height="121.30" fill="#006400"/>
<rect x="551.83" y="746.70" width="2.50" height="121.30" fill="#006400"/>
<rect x="563.94" y="746.70" width="4.99" height="121.30" fill="#006400"/>
<rect x="571.80" y="746.70" width="3.74" height="121.30" fill="#006400"/>
<rect x="583.66" y="746.70" width="6.24" height="121.30" fill="#006400"/>
<rect x="600.14" y="746.70" width="3.74" height="121.30" fill="#006400"/>
<rect x="607.13" y="746.70" width="5.62" height="121.30" fill="#006400"/>
<rect x="614.37" y="746.70" width="4.62" height="121.30" fill="#006400"/>
<rect x="628.10" y="746.70" width="2.75" height="121.30" fill="#006400"/>
<rect x="633.97" y="746.70" width="5.99" height="121.30" fill="#006400"/>
<rect x="652.94" y="746.70" width="12.48" height="121.30" fill="#006400"/>
<rect x="667.05" y="746.70" width="3.37" height="121.30" fill="#006400"/>
<rect x="678.53" y="746.70" width="2.62" height="121.30" fill="#006400"/>
<rect x="687.89" y="746.70" width="2.50" height="121.30" fill="#006400"/>
<rect x="696.01" y="746.70" width="3.87" height="121.30" fill="#006400"/>
<rect x="757.17" y="746.70" width="2.62" height="121.30" fill="#006400"/>
<text x="238.8" y="819.05" font-size="27.7" text-anchor="end">FGFR3</text>
<text x="798.1" y="818.65" font-size="27.6">19%</text>
<rect x="869.8" y="770.05" width="42.00" height="75.5" fill="#006400"/>
<rect x="246.0" y="873.85" width="546.20" height="121.3" fill="#CCCCCC"/>
<rect x="415.02" y="873.85" width="1.00" height="121.30" fill="#D8D0DA"/>
<rect x="515.88" y="873.85" width="1.00" height="121.30" fill="#D8D0DA"/>
<rect x="539.35" y="873.85" width="0.87" height="121.30" fill="#D8D0DA"/>
<rect x="594.27" y="873.85" width="1.25" height="121.30" fill="#D8D0DA"/>
<rect x="768.78" y="873.85" width="1.25" height="121.30" fill="#D8D0DA"/>
<rect x="782.89" y="873.85" width="1.25" height="121.30" fill="#D8D0DA"/>
<rect x="787.51" y="873.85" width="1.25" height="121.30" fill="#D8D0DA"/>
<rect x="246.0" y="873.85" width="1.2" height="121.3" fill="#D8D0DA"/>
<rect x="300.92" y="873.85" width="5.24" height="121.30" fill="#006400"/>
<rect x="312.66" y="873.85" width="2.87" height="121.30" fill="#006400"/>
<rect x="330.26" y="873.85" width="3.99" height="121.30" fill="#006400"/>
<rect x="365.71" y="873.85" width="2.50" height="121.30" fill="#006400"/>
<rect x="399.54" y="873.85" width="3.74" height="121.30" fill="#006400"/>
<rect x="408.78" y="873.85" width="6.24" height="121.30" fill="#006400"/>
<rect x="416.02" y="873.85" width="3.74" height="121.30" fill="#006400"/>
<rect x="441.73" y="873.85" width="2.75" height="121.30" fill="#006400"/>
<rect x="475.68" y="873.85" width="3.99" height="121.30" fill="#006400"/>
<rect x="485.05" y="873.85" width="3.99" height="121.30" fill="#006400"/>
<rect x="511.88" y="873.85" width="3.99" height="121.30" fill="#006400"/>
<rect x="516.88" y="873.85" width="3.74" height="121.30" fill="#006400"/>
<rect x="528.74" y="873.85" width="3.74" height="121.30" fill="#006400"/>
<rect x="535.60" y="873.85" width="3.74" height="121.30" fill="#006400"/>
<rect x="540.22" y="873.85" width="3.74" height="121.30" fill="#006400"/>
<rect x="556.82" y="873.85" width="2.25" height="121.30" fill="#006400"/>
<rect x="570.80" y="873.85" width="2.50" height="121.30" fill="#006400"/>
<rect x="590.78" y="873.85" width="3.50" height="121.30" fill="#006400"/>
<rect x="595.52" y="873.85" width="3.74" height="121.30" fill="#006400"/>
<rect x="607.13" y="873.85" width="8.11" height="121.30" fill="#006400"/>
<rect x="623.73" y="873.85" width="2.37" height="121.30" fill="#006400"/>
<rect x="628.35" y="873.85" width="4.62" height="121.30" fill="#006400"/>
<rect x="652.94" y="873.85" width="10.61" height="121.30" fill="#006400"/>
<rect x="671.66" y="873.85" width="3.50" height="121.30" fill="#006400"/>
<rect x="701.00" y="873.85" width="3.50" height="121.30" fill="#006400"/>
<rect x="721.97" y="873.85" width="3.74" height="121.30" fill="#006400"/>
<rect x="738.45" y="873.85" width="3.50" height="121.30" fill="#006400"/>
<rect x="747.81" y="873.85" width="2.50" height="121.30" fill="#006400"/>
<rect x="752.55" y="873.85" width="2.50" height="121.30" fill="#006400"/>
<rect x="765.29" y="873.85" width="3.50" height="121.30" fill="#006400"/>
<rect x="770.03" y="873.85" width="3.74" height="121.30" fill="#006400"/>
<rect x="779.39" y="873.85" width="3.50" height="121.30" fill="#006400"/>
<rect x="784.14" y="873.85" width="3.37" height="121.30" fill="#006400"/>
<rect x="788.75" y="873.85" width="2.25" height="121.30" fill="#006400"/>
<text x="238.8" y="946.20" font-size="27.7" text-anchor="end">KDM6A</text>
<text x="798.1" y="945.80" font-size="27.6">18%</text>
<rect x="869.8" y="897.20" width="39.60" height="75.5" fill="#006400"/>
<rect x="246.0" y="1001.00" width="546.20" height="121.3" fill="#CCCCCC"/>
<rect x="257.86" y="1001.00" width="1.12" height="121.30" fill="#D8D0DA"/>
<rect x="455.96" y="1001.00" width="1.00" height="121.30" fill="#D8D0DA"/>
<rect x="460.45" y="1001.00" width="1.25" height="121.30" fill="#D8D0DA"/>
<rect x="513.13" y="1001.00" width="1.87" height="121.30" fill="#D8D0DA"/>
<rect x="246.0" y="1001.00" width="1.2" height="121.3" fill="#D8D0DA"/>
<rect x="255.24" y="1001.00" width="2.62" height="121.30" fill="#006400"/>
<rect x="258.98" y="1001.00" width="3.87" height="121.30" fill="#006400"/>
<rect x="303.42" y="1001.00" width="2.75" height="121.30" fill="#006400"/>
<rect x="312.78" y="1001.00" width="2.75" height="121.30" fill="#006400"/>
<rect x="319.65" y="1001.00" width="2.75" height="121.30" fill="#006400"/>
<rect x="325.89" y="1001.00" width="3.62" height="121.30" fill="#006400"/>
<rect x="341.99" y="1001.00" width="3.87" height="121.30" fill="#006400"/>
<rect x="351.35" y="1001.00" width="4.12" height="121.30" fill="#006400"/>
<rect x="372.58" y="1001.00" width="2.62" height="121.30" fill="#006400"/>
<rect x="413.52" y="1001.00" width="3.99" height="121.30" fill="#006400"/>
<rect x="434.74" y="1001.00" width="2.50" height="121.30" fill="#006400"/>
<rect x="441.73" y="1001.00" width="2.50" height="121.30" fill="#006400"/>
<rect x="452.34" y="1001.00" width="3.62" height="121.30" fill="#006400"/>
<rect x="456.96" y="1001.00" width="3.50" height="121.30" fill="#006400"/>
<rect x="461.70" y="1001.00" width="3.74" height="121.30" fill="#006400"/>
<rect x="489.79" y="1001.00" width="2.50" height="121.30" fill="#006400"/>
<rect x="503.77" y="1001.00" width="2.50" height="121.30" fill="#006400"/>
<rect x="509.64" y="1001.00" width="3.50" height="121.30" fill="#006400"/>
<rect x="515.00" y="1001.00" width="3.12" height="121.30" fill="#006400"/>
<rect x="547.09" y="1001.00" width="3.87" height="121.30" fill="#006400"/>
<rect x="595.27" y="1001.00" width="3.74" height="121.30" fill="#006400"/>
<rect x="602.39" y="1001.00" width="3.50" height="121.30" fill="#006400"/>
<rect x="613.99" y="1001.00" width="3.99" height="121.30" fill="#006400"/>
<rect x="628.10" y="1001.00" width="4.87" height="121.30" fill="#006400"/>
<rect x="667.05" y="1001.00" width="5.87" height="121.30" fill="#006400"/>
<rect x="681.03" y="1001.00" width="2.50" height="121.30" fill="#006400"/>
<rect x="707.86" y="1001.00" width="3.74" height="121.30" fill="#006400"/>
<rect x="716.98" y="1001.00" width="3.99" height="121.30" fill="#006400"/>
<rect x="724.09" y="1001.00" width="3.87" height="121.30" fill="#006400"/>
<rect x="731.33" y="1001.00" width="3.74" height="121.30" fill="#006400"/>
<rect x="760.67" y="1001.00" width="3.74" height="121.30" fill="#006400"/>
<rect x="788.75" y="1001.00" width="2.25" height="121.30" fill="#006400"/>
<text x="238.8" y="1073.35" font-size="27.7" text-anchor="end">PIK3CA</text>
<text x="798.1" y="1072.95" font-size="27.6">14%</text>
<rect x="869.8" y="1024.35" width="32.70" height="75.5" fill="#006400"/>
<rect x="246.0" y="1128.15" width="546.20" height="121.3" fill="#CCCCCC"/>
<rect x="449.09" y="1128.15" width="1.00" height="121.30" fill="#D8D0DA"/>
<rect x="465.45" y="1128.15" width="1.25" height="121.30" fill="#D8D0DA"/>
<rect x="470.07" y="1128.15" width="1.25" height="121.30" fill="#D8D0DA"/>
<rect x="474.81" y="1128.15" width="0.87" height="121.30" fill="#D8D0DA"/>
<rect x="479.43" y="1128.15" width="1.25" height="121.30" fill="#D8D0DA"/>
<rect x="484.17" y="1128.15" width="1.12" height="121.30" fill="#D8D0DA"/>
<rect x="491.04" y="1128.15" width="1.12" height="121.30" fill="#D8D0DA"/>
<rect x="246.0" y="1128.15" width="1.2" height="121.3" fill="#D8D0DA"/>
<rect x="248.12" y="1128.15" width="2.87" height="121.30" fill="#006400"/>
<rect x="291.81" y="1128.15" width="3.74" height="121.30" fill="#006400"/>
<rect x="308.04" y="1128.15" width="2.87" height="121.30" fill="#006400"/>
<rect x="446.35" y="1128.15" width="2.75" height="121.30" fill="#006400"/>
<rect x="450.09" y="1128.15" width="3.50" height="121.30" fill="#006400"/>
<rect x="461.70" y="1128.15" width="3.74" height="121.30" fill="#006400"/>
<rect x="466.70" y="1128.15" width="3.37" height="121.30" fill="#006400"/>
<rect x="471.31" y="1128.15" width="3.50" height="121.30" fill="#006400"/>
<rect x="475.68" y="1128.15" width="3.74" height="121.30" fill="#006400"/>
<rect x="480.68" y="1128.15" width="3.50" height="121.30" fill="#006400"/>
<rect x="485.30" y="1128.15" width="5.74" height="121.30" fill="#006400"/>
<rect x="492.16" y="1128.15" width="2.62" height="121.30" fill="#006400"/>
<rect x="499.15" y="1128.15" width="4.87" height="121.30" fill="#006400"/>
<rect x="509.64" y="1128.15" width="3.74" height="121.30" fill="#006400"/>
<rect x="519.00" y="1128.15" width="3.87" height="121.30" fill="#006400"/>
<rect x="558.94" y="1128.15" width="4.99" height="121.30" fill="#006400"/>
<rect x="570.55" y="1128.15" width="2.75" height="121.30" fill="#006400"/>
<rect x="618.99" y="1128.15" width="2.25" height="121.30" fill="#006400"/>
<rect x="623.73" y="1128.15" width="2.37" height="121.30" fill="#006400"/>
<rect x="638.96" y="1128.15" width="8.11" height="121.30" fill="#006400"/>
<rect x="662.05" y="1128.15" width="3.74" height="121.30" fill="#006400"/>
<rect x="676.16" y="1128.15" width="3.74" height="121.30" fill="#006400"/>
<rect x="690.39" y="1128.15" width="2.50" height="121.30" fill="#006400"/>
<rect x="695.13" y="1128.15" width="2.50" height="121.30" fill="#006400"/>
<rect x="719.85" y="1128.15" width="3.37" height="121.30" fill="#006400"/>
<rect x="736.33" y="1128.15" width="3.50" height="121.30" fill="#006400"/>
<rect x="760.67" y="1128.15" width="3.74" height="121.30" fill="#006400"/>
<rect x="772.28" y="1128.15" width="3.74" height="121.30" fill="#006400"/>
<text x="238.8" y="1200.50" font-size="27.7" text-anchor="end">RB1</text>
<text x="798.1" y="1200.10" font-size="27.6">14%</text>
<rect x="869.8" y="1151.50" width="31.30" height="75.5" fill="#006400"/>
<g stroke="#000" stroke-width="1.1" fill="none">
<line x1="869.9" y1="236.3" x2="1025.5" y2="236.3"/>
<line x1="869.9" y1="228.1" x2="869.9" y2="236.3"/>
<line x1="918.1" y1="228.1" x2="918.1" y2="236.3"/>
<line x1="966.4" y1="228.1" x2="966.4" y2="236.3"/>
<line x1="1014.5" y1="228.1" x2="1014.5" y2="236.3"/>
</g>
<text x="869.9" y="222.3" font-size="21.5" text-anchor="middle">0</text>
<text x="918.1" y="222.3" font-size="21.5" text-anchor="middle">50</text>
<text x="966.4" y="222.3" font-size="21.5" text-anchor="middle">100</text>
<text x="1014.5" y="222.3" font-size="21.5" text-anchor="middle">150</text>
<text transform="translate(1038.8,567.3) scale(1.11,1)" font-weight="bold" font-size="25.2">Alterations</text>
<rect x="1043.2" y="583" width="25.9" height="24.1" fill="#006400"/>
<text x="1077.5" y="606.4" font-size="26.5">Mutation</text>
<clipPath id="clclip"><rect x="1190" y="540" width="107.2" height="40"/></clipPath>
<g clip-path="url(#clclip)"><text transform="translate(1198.6,567) scale(1.12,1)" font-weight="bold" font-size="25.2">Cluster</text></g>
<rect x="1200.2" y="580.90" width="30.7" height="28.3" fill="#007FFF"/>
<text x="1237" y="606.00" font-size="27">Cluster1</text>
<rect x="1200.2" y="610.30" width="30.7" height="28.3" fill="#EEC900"/>
<text x="1237" y="635.20" font-size="27">Cluster2_sub1</text>
<rect x="1200.2" y="639.70" width="30.7" height="28.3" fill="#FF4500"/>
<text x="1237" y="664.40" font-size="27">Cluster2_sub2</text>
<rect x="1200.2" y="669.10" width="30.7" height="28.3" fill="#008B45"/>
<text x="1237" y="693.60" font-size="27">Cluster3</text>
<text x="1188" y="746.4" font-weight="bold" font-size="25.0">PD-L1 expression</text>
<rect x="1200.4" y="762.3" width="30.5" height="27.6" fill="#ADD8E6"/>
<rect x="1200.4" y="791.2" width="30.5" height="28.4" fill="#FF0000"/>
<text x="1237" y="786.3" font-size="26">low</text>
<text x="1237" y="815" font-size="26">high</text>
<text x="1189" y="861.6" font-weight="bold" font-size="25.4">Response</text>
<rect x="1200.4" y="883.5" width="30.5" height="28.3" fill="#F8766D"/>
<rect x="1200.4" y="913.6" width="30.5" height="27.3" fill="#00BFC4"/>
<text x="1237" y="907.2" font-size="27">Responder</text>
<text x="1237" y="937.4" font-size="27">Non-responder</text>
<text x="12" y="1551.5" font-family="Liberation Serif" font-weight="bold" font-size="73">B</text>
<rect x="126.9" y="2036.50" width="1018.10" height="1.4" fill="#EBEBEB"/>
<rect x="126.9" y="1915.90" width="1018.10" height="1.4" fill="#EBEBEB"/>
<rect x="126.9" y="1795.30" width="1018.10" height="1.4" fill="#EBEBEB"/>
<rect x="126.9" y="1674.70" width="1018.10" height="1.4" fill="#EBEBEB"/>
<rect x="126.9" y="2096.20" width="1018.10" height="2.6" fill="#EBEBEB"/>
<rect x="126.9" y="1975.60" width="1018.10" height="2.6" fill="#EBEBEB"/>
<rect x="126.9" y="1855.00" width="1018.10" height="2.6" fill="#EBEBEB"/>
<rect x="126.9" y="1734.40" width="1018.10" height="2.6" fill="#EBEBEB"/>
<rect x="126.9" y="1613.80" width="1018.10" height="2.6" fill="#EBEBEB"/>
<rect x="200.70" y="1607" width="2.4" height="513" fill="#EBEBEB"/>
<rect x="324.75" y="1607" width="2.4" height="513" fill="#EBEBEB"/>
<rect x="448.80" y="1607" width="2.4" height="513" fill="#EBEBEB"/>
<rect x="572.85" y="1607" width="2.4" height="513" fill="#EBEBEB"/>
<rect x="696.90" y="1607" width="2.4" height="513" fill="#EBEBEB"/>
<rect x="820.95" y="1607" width="2.4" height="513" fill="#EBEBEB"/>
<rect x="945.00" y="1607" width="2.4" height="513" fill="#EBEBEB"/>
<rect x="1069.05" y="1607" width="2.4" height="513" fill="#EBEBEB"/>
<rect x="146.30" y="1667.80" width="27.85" height="429.70" fill="#007FFF"/>
<rect x="174.10" y="1722.31" width="27.85" height="375.19" fill="#EEC900"/>
<rect x="201.90" y="1630.17" width="27.85" height="467.32" fill="#FF4500"/>
<rect x="229.70" y="1755.00" width="27.85" height="342.50" fill="#008B45"/>
<rect x="270.35" y="1857.51" width="27.85" height="239.99" fill="#007FFF"/>
<rect x="298.15" y="1682.64" width="27.85" height="414.86" fill="#EEC900"/>
<rect x="325.95" y="1824.94" width="27.85" height="272.56" fill="#FF4500"/>
<rect x="353.75" y="1741.43" width="27.85" height="356.07" fill="#008B45"/>
<rect x="394.40" y="1973.40" width="27.85" height="124.10" fill="#007FFF"/>
<rect x="422.20" y="1990.17" width="27.85" height="107.33" fill="#EEC900"/>
<rect x="450.00" y="1941.93" width="27.85" height="155.57" fill="#FF4500"/>
<rect x="477.80" y="1891.88" width="27.85" height="205.62" fill="#008B45"/>
<rect x="518.45" y="1956.40" width="27.85" height="141.10" fill="#007FFF"/>
<rect x="546.25" y="1963.03" width="27.85" height="134.47" fill="#EEC900"/>
<rect x="574.05" y="1942.23" width="27.85" height="155.27" fill="#FF4500"/>
<rect x="601.85" y="1960.02" width="27.85" height="137.48" fill="#008B45"/>
<rect x="642.50" y="1973.28" width="27.85" height="124.22" fill="#007FFF"/>
<rect x="670.30" y="2056.80" width="27.85" height="40.70" fill="#EEC900"/>
<rect x="698.10" y="1874.03" width="27.85" height="223.47" fill="#FF4500"/>
<rect x="725.90" y="2056.80" width="27.85" height="40.70" fill="#008B45"/>
<rect x="766.55" y="2023.33" width="27.85" height="74.17" fill="#007FFF"/>
<rect x="794.35" y="2003.43" width="27.85" height="94.07" fill="#EEC900"/>
<rect x="822.15" y="1942.23" width="27.85" height="155.27" fill="#FF4500"/>
<rect x="849.95" y="1960.02" width="27.85" height="137.48" fill="#008B45"/>
<rect x="890.60" y="2014.89" width="27.85" height="82.61" fill="#007FFF"/>
<rect x="918.40" y="1976.90" width="27.85" height="120.60" fill="#EEC900"/>
<rect x="946.20" y="2020.01" width="27.85" height="77.49" fill="#FF4500"/>
<rect x="974.00" y="2001.02" width="27.85" height="96.48" fill="#008B45"/>
<rect x="1014.65" y="2072.48" width="27.85" height="25.02" fill="#007FFF"/>
<rect x="1042.45" y="1909.97" width="27.85" height="187.53" fill="#EEC900"/>
<rect x="1070.25" y="1999.81" width="27.85" height="97.69" fill="#FF4500"/>
<rect x="1098.05" y="2015.49" width="27.85" height="82.01" fill="#008B45"/>
<text x="111.8" y="2109.50" font-size="32" fill="#4D4D4D" text-anchor="end">0.0</text>
<text x="111.8" y="1988.90" font-size="32" fill="#4D4D4D" text-anchor="end">0.2</text>
<text x="111.8" y="1868.30" font-size="32" fill="#4D4D4D" text-anchor="end">0.4</text>
<text x="111.8" y="1747.70" font-size="32" fill="#4D4D4D" text-anchor="end">0.6</text>
<text x="111.8" y="1627.10" font-size="32" fill="#4D4D4D" text-anchor="end">0.8</text>
<text transform="translate(204.60,2139.8) rotate(-45)" font-size="32" fill="#4D4D4D" text-anchor="end" dominant-baseline="hanging">TERT</text>
<text transform="translate(328.65,2139.8) rotate(-45)" font-size="32" fill="#4D4D4D" text-anchor="end" dominant-baseline="hanging">TP53</text>
<text transform="translate(452.70,2139.8) rotate(-45)" font-size="32" fill="#4D4D4D" text-anchor="end" dominant-baseline="hanging">ARID1A</text>
<text transform="translate(576.75,2139.8) rotate(-45)" font-size="32" fill="#4D4D4D" text-anchor="end" dominant-baseline="hanging">MLL2</text>
<text transform="translate(700.80,2139.8) rotate(-45)" font-size="32" fill="#4D4D4D" text-anchor="end" dominant-baseline="hanging">FGFR3</text>
<text transform="translate(824.85,2139.8) rotate(-45)" font-size="32" fill="#4D4D4D" text-anchor="end" dominant-baseline="hanging">KDM6A</text>
<text transform="translate(948.90,2139.8) rotate(-45)" font-size="32" fill="#4D4D4D" text-anchor="end" dominant-baseline="hanging">PIK3CA</text>
<text transform="translate(1072.95,2139.8) rotate(-45)" font-size="32" fill="#4D4D4D" text-anchor="end" dominant-baseline="hanging">RB1</text>
<text transform="translate(52.9,1865) rotate(-90)" font-weight="bold" font-size="36.7" text-anchor="middle">Mutation Rate</text>
<text x="636" y="2277.4" font-weight="bold" font-size="35" text-anchor="middle">Gene</text>
<text x="1199.5" y="1776.7" font-weight="bold" font-size="29.6">Cluster</text>
<rect x="1202.4" y="1800.50" width="39.4" height="40.9" fill="#007FFF"/>
<text x="1261" y="1833.60" font-size="29.8">Cluster1</text>
<rect x="1202.4" y="1845.60" width="39.4" height="40.9" fill="#EEC900"/>
<text x="1261" y="1878.20" font-size="29.8">Cluster2_sub1</text>
<rect x="1202.4" y="1890.70" width="39.4" height="40.9" fill="#FF4500"/>
<text x="1261" y="1922.80" font-size="29.8">Cluster2_sub2</text>
<rect x="1202.4" y="1935.80" width="39.4" height="40.9" fill="#008B45"/>
<text x="1261" y="1967.40" font-size="29.8">Cluster3</text>
</svg>
</body></html>
